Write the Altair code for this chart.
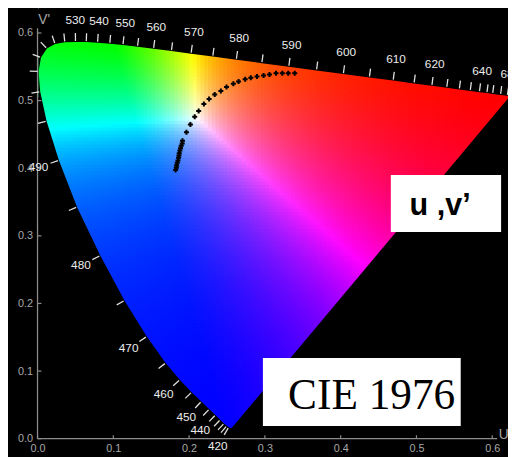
import numpy as np
import pandas as pd
import altair as alt

alt.data_transformers.disable_max_rows()

# ---- spectral locus, CIE 1976 u'v' ----
wavelength = [380, 390, 400, 410, 420, 425, 430, 435, 440, 445, 450, 455, 460, 465, 470,
              475, 480, 485, 490, 495, 500, 505, 510, 515, 520, 525, 530, 535, 540, 545,
              550, 555, 560, 565, 570, 575, 580, 585, 590, 595, 600, 605, 610, 615, 620,
              625, 630, 635, 640, 645, 650, 660, 680, 700]
locus_u = [0.2568, 0.2564, 0.2557, 0.2545, 0.2522, 0.2496, 0.2461, 0.2411, 0.2347, 0.2266,
           0.2161, 0.2033, 0.1877, 0.1690, 0.1441, 0.1147, 0.0828, 0.0521, 0.0282, 0.0119,
           0.0035, 0.0014, 0.0046, 0.0123, 0.0231, 0.0360, 0.0501, 0.0643, 0.0792, 0.0953,
           0.1127, 0.1319, 0.1531, 0.1766, 0.2026, 0.2312, 0.2623, 0.2960, 0.3315, 0.3681,
           0.4035, 0.4379, 0.4692, 0.4968, 0.5203, 0.5399, 0.5565, 0.5709, 0.5830, 0.5929,
           0.6005, 0.6109, 0.6199, 0.6234]
locus_v = [0.0166, 0.0163, 0.0159, 0.0159, 0.0169, 0.0191, 0.0226, 0.0279, 0.0350, 0.0437,
           0.0549, 0.0688, 0.0871, 0.1119, 0.1510, 0.2044, 0.2708, 0.3427, 0.4117, 0.4698,
           0.5131, 0.5432, 0.5638, 0.5770, 0.5837, 0.5861, 0.5868, 0.5865, 0.5856, 0.5841,
           0.5821, 0.5796, 0.5766, 0.5732, 0.5694, 0.5651, 0.5604, 0.5554, 0.5501, 0.5446,
           0.5393, 0.5342, 0.5296, 0.5254, 0.5219, 0.5190, 0.5165, 0.5143, 0.5125, 0.5111,
           0.5099, 0.5084, 0.5070, 0.5065]

label_wavelengths = [420, 440, 450, 460, 470, 480, 490, 530, 540, 550, 560, 570, 580,
                     590, 600, 610, 620, 640, 680]

# ---- measured points (black crosses) ----
curve_u = [0.1822, 0.1831, 0.1835, 0.1844, 0.1853, 0.1861, 0.1866, 0.1870, 0.1879, 0.1887,
           0.1896, 0.1909, 0.1913, 0.1965, 0.2017, 0.2074, 0.2126, 0.2195, 0.2264, 0.2338,
           0.2419, 0.2494, 0.2584, 0.2653, 0.2740, 0.2814, 0.2896, 0.2983, 0.3061, 0.3147,
           0.3230, 0.3308, 0.3394]
curve_v = [0.3974, 0.4007, 0.4042, 0.4080, 0.4115, 0.4153, 0.4188, 0.4221, 0.4261, 0.4294,
           0.4333, 0.4367, 0.4406, 0.4531, 0.4648, 0.4760, 0.4847, 0.4949, 0.5022, 0.5090,
           0.5143, 0.5201, 0.5250, 0.5284, 0.5317, 0.5338, 0.5357, 0.5371, 0.5386, 0.5405,
           0.5405, 0.5405, 0.5405]

axis_values = [0.0, 0.1, 0.2, 0.3, 0.4, 0.5, 0.6]
white_point = (0.2105, 0.4737)

# ---- annotation boxes ----
box_u0 = [0.4662, 0.2974]
box_u1 = [0.6117, 0.5584]
box_v0 = [0.3057, 0.0189]
box_v1 = [0.3901, 0.1194]
box_text = ["u ,v\u2019", "CIE 1976"]
text_u = [0.5312, 0.4409]
text_v = [0.3304, 0.0437]

# ---- geometry ----
W, H = 478, 434
U_MAX, V_MAX = 0.6208, 0.6317
SX, SY = W / U_MAX, H / V_MAX

SANS = "Liberation Sans, Arial"

lu = np.array(locus_u)
lv = np.array(locus_v)
n = len(wavelength)
i505 = wavelength.index(505)
up_u, up_v = lu[i505:], lv[i505:]
lo_u = np.append(lu[:i505 + 1][::-1], lu[-1])
lo_v = np.append(lv[:i505 + 1][::-1], lv[-1])


def uv_rgb(u, v):
    # chromaticity -> XYZ (Y=1) -> CIE RGB (equal-energy white), max-normalised
    d = 6 * u - 16 * v + 12
    x = 9 * u / d
    y = 4 * v / d
    X = x / y
    Z = (1 - x - y) / y
    r = 2.3646 * X - 0.8965 - 0.4681 * Z
    g = -0.5152 * X + 1.4264 + 0.0888 * Z
    b = 0.0052 * X - 0.0144 + 1.0092 * Z
    c = np.clip(np.array([r, g, b]), 0, None)
    c = np.power(c / c.max(), 1.15)
    return "#%02x%02x%02x" % tuple(int(round(t * 255)) for t in c)


du = dv = 0.005
cells = []
u0 = 0.0
while u0 < up_u[-1]:
    us = np.linspace(max(u0, up_u[0]), min(u0 + du, up_u[-1]), 5)
    vlo = np.interp(us, lo_u, lo_v).min()
    vhi = np.interp(us, up_u, up_v).max()
    uc = min(max(u0 + du / 2, up_u[0]), up_u[-1])
    clo = np.interp(uc, lo_u, lo_v)
    chi = np.interp(uc, up_u, up_v)
    v0 = np.floor(vlo / dv) * dv
    while v0 < vhi:
        if clo + 0.002 < chi - 0.002:
            vc = min(max(v0 + dv / 2, clo + 0.002), chi - 0.002)
        else:
            vc = (clo + chi) / 2
        cells.append(dict(u0=u0, u1=u0 + du * 1.25, v0=v0, v1=v0 + dv * 1.25,
                          c=uv_rgb(uc, vc)))
        v0 += dv
    u0 += du
cells_df = pd.DataFrame(cells)

upper_df = pd.DataFrame(dict(u=up_u, v=up_v, top=0.70))
lower_df = pd.DataFrame(dict(u=lo_u, v=lo_v, bot=-0.05))
left_df = pd.DataFrame(dict(u0=[-0.05], u1=[up_u[0]], v0=[-0.05], v1=[0.70]))

# wavelength ticks & labels
ticks = []
for k, w in enumerate(wavelength):
    if w < 420 or w > 680:
        continue
    a, b = max(k - 1, 0), min(k + 1, n - 1)
    tx, ty = (lu[b] - lu[a]) * SX, (lv[b] - lv[a]) * SY
    nv = np.array([-ty, tx])
    nv /= np.linalg.norm(nv)
    dvec = np.array([(lu[k] - white_point[0]) * SX, (lv[k] - white_point[1]) * SY])
    if nv @ dvec < 0:
        nv = -nv
    ticks.append(dict(
        u0=lu[k] + nv[0] * 1 / SX, v0=lv[k] + nv[1] * 1 / SY,
        u1=lu[k] + nv[0] * 9 / SX, v1=lv[k] + nv[1] * 9 / SY,
        lu=lu[k] + nv[0] * 22 / SX, lv=lv[k] + nv[1] * 22 / SY,
        label=str(w) if w in label_wavelengths else ""))
ticks_df = pd.DataFrame(ticks)
labels_df = ticks_df[ticks_df.label != ""]

curve_df = pd.DataFrame(dict(u=curve_u, v=curve_v))
boxes_df = pd.DataFrame(dict(u0=box_u0, u1=box_u1, v0=box_v0, v1=box_v1))
texts_df = pd.DataFrame(dict(t=box_text, u=text_u, v=text_v))
axlines_df = pd.DataFrame(dict(u0=[0, 0], u1=[0.6065, 0], v0=[0, 0], v1=[0, 0.607]))
axtitle_df = pd.DataFrame(dict(t=["U'", "V'"], u=[0.6085, 0.0010], v=[0.0058, 0.6186]))
av = np.array(axis_values)
xticks_df = pd.DataFrame(dict(u0=av, u1=av, v0=0 * av, v1=0 * av + 3.5 / SY))
yticks_df = pd.DataFrame(dict(u0=0 * av, u1=0 * av + 4 / SX, v0=av, v1=av))

XS = alt.Scale(domain=[0, U_MAX], nice=False, zero=False)
YS = alt.Scale(domain=[0, V_MAX], nice=False, zero=False)
AX_COMMON = dict(values=axis_values, format=".1f", title=None, grid=False, domain=False,
                 ticks=False, tickSize=0, labelColor="#a8a8a8",
                 labelFont=SANS, labelFontSize=11, labelFlush=False,
                 labelOverlap=False, zindex=1)
XA = alt.Axis(labelPadding=4, **AX_COMMON)
YA = alt.Axis(labelPadding=5, **AX_COMMON)


def X(f):
    return alt.X(f, type="quantitative", scale=XS, axis=XA)


def Y(f):
    return alt.Y(f, type="quantitative", scale=YS, axis=YA)


bg = alt.Chart(alt.Data(values=[{}])).mark_rect(color="black").encode(
    x=alt.value(-25), x2=alt.value(W + 5), y=alt.value(-2), y2=alt.value(H + 20))

cells_layer = alt.Chart(cells_df).mark_rect(strokeWidth=0).encode(
    x=X("u0"), x2="u1", y=Y("v0"), y2="v1", color=alt.Color("c:N", scale=None))

upper_mask = alt.Chart(upper_df).mark_area(color="black").encode(
    x=X("u"), y=Y("v"), y2="top")
lower_mask = alt.Chart(lower_df).mark_area(color="black").encode(
    x=X("u"), y=Y("v"), y2="bot")
left_mask = alt.Chart(left_df).mark_rect(color="black").encode(
    x=X("u0"), x2="u1", y=Y("v0"), y2="v1")


def rules(df, color, width):
    return alt.Chart(df).mark_rule(color=color, strokeWidth=width).encode(
        x=X("u0"), x2="u1", y=Y("v0"), y2="v1")


axlines = rules(axlines_df, "#8c8c8c", 1.3)
xticks = rules(xticks_df, "#8c8c8c", 1.2)
yticks = rules(yticks_df, "#8c8c8c", 1.2)
tick_layer = rules(ticks_df, "#e0e0e0", 1.3)

label_layer = alt.Chart(labels_df).mark_text(
    color="#ececec", font=SANS, fontSize=12, align="center",
    baseline="middle").encode(x=X("lu"), y=Y("lv"), text="label:N")

curve_layer = alt.Chart(curve_df).mark_point(
    shape="cross", filled=True, color="black", size=26, opacity=1).encode(
    x=X("u"), y=Y("v"))

boxes = alt.Chart(boxes_df).mark_rect(color="white").encode(
    x=X("u0"), x2="u1", y=Y("v0"), y2="v1")
txt1 = alt.Chart(texts_df.iloc[[0]]).mark_text(
    color="black", font="Liberation Sans", fontWeight="bold", fontSize=31,
    align="center", baseline="alphabetic").encode(x=X("u"), y=Y("v"), text="t:N")
txt2 = alt.Chart(texts_df.iloc[[1]]).mark_text(
    color="black", font="Liberation Serif", fontSize=44,
    align="center", baseline="alphabetic").encode(x=X("u"), y=Y("v"), text="t:N")

axtitles = alt.Chart(axtitle_df).mark_text(
    color="#a8a8a8", font=SANS, fontSize=14, align="left",
    baseline="middle").encode(x=X("u"), y=Y("v"), text="t:N")

chart = alt.layer(
    bg, cells_layer, upper_mask, lower_mask, left_mask, axlines, xticks, yticks,
    tick_layer, label_layer, curve_layer, boxes, txt1, txt2, axtitles
).properties(
    width=W, height=H,
    padding={"left": 30, "top": 0, "right": 0, "bottom": 15},
    autosize="none", background="white"
).configure_view(strokeWidth=0)

chart.save("out.html", embed_options={"renderer": "svg", "actions": False})
